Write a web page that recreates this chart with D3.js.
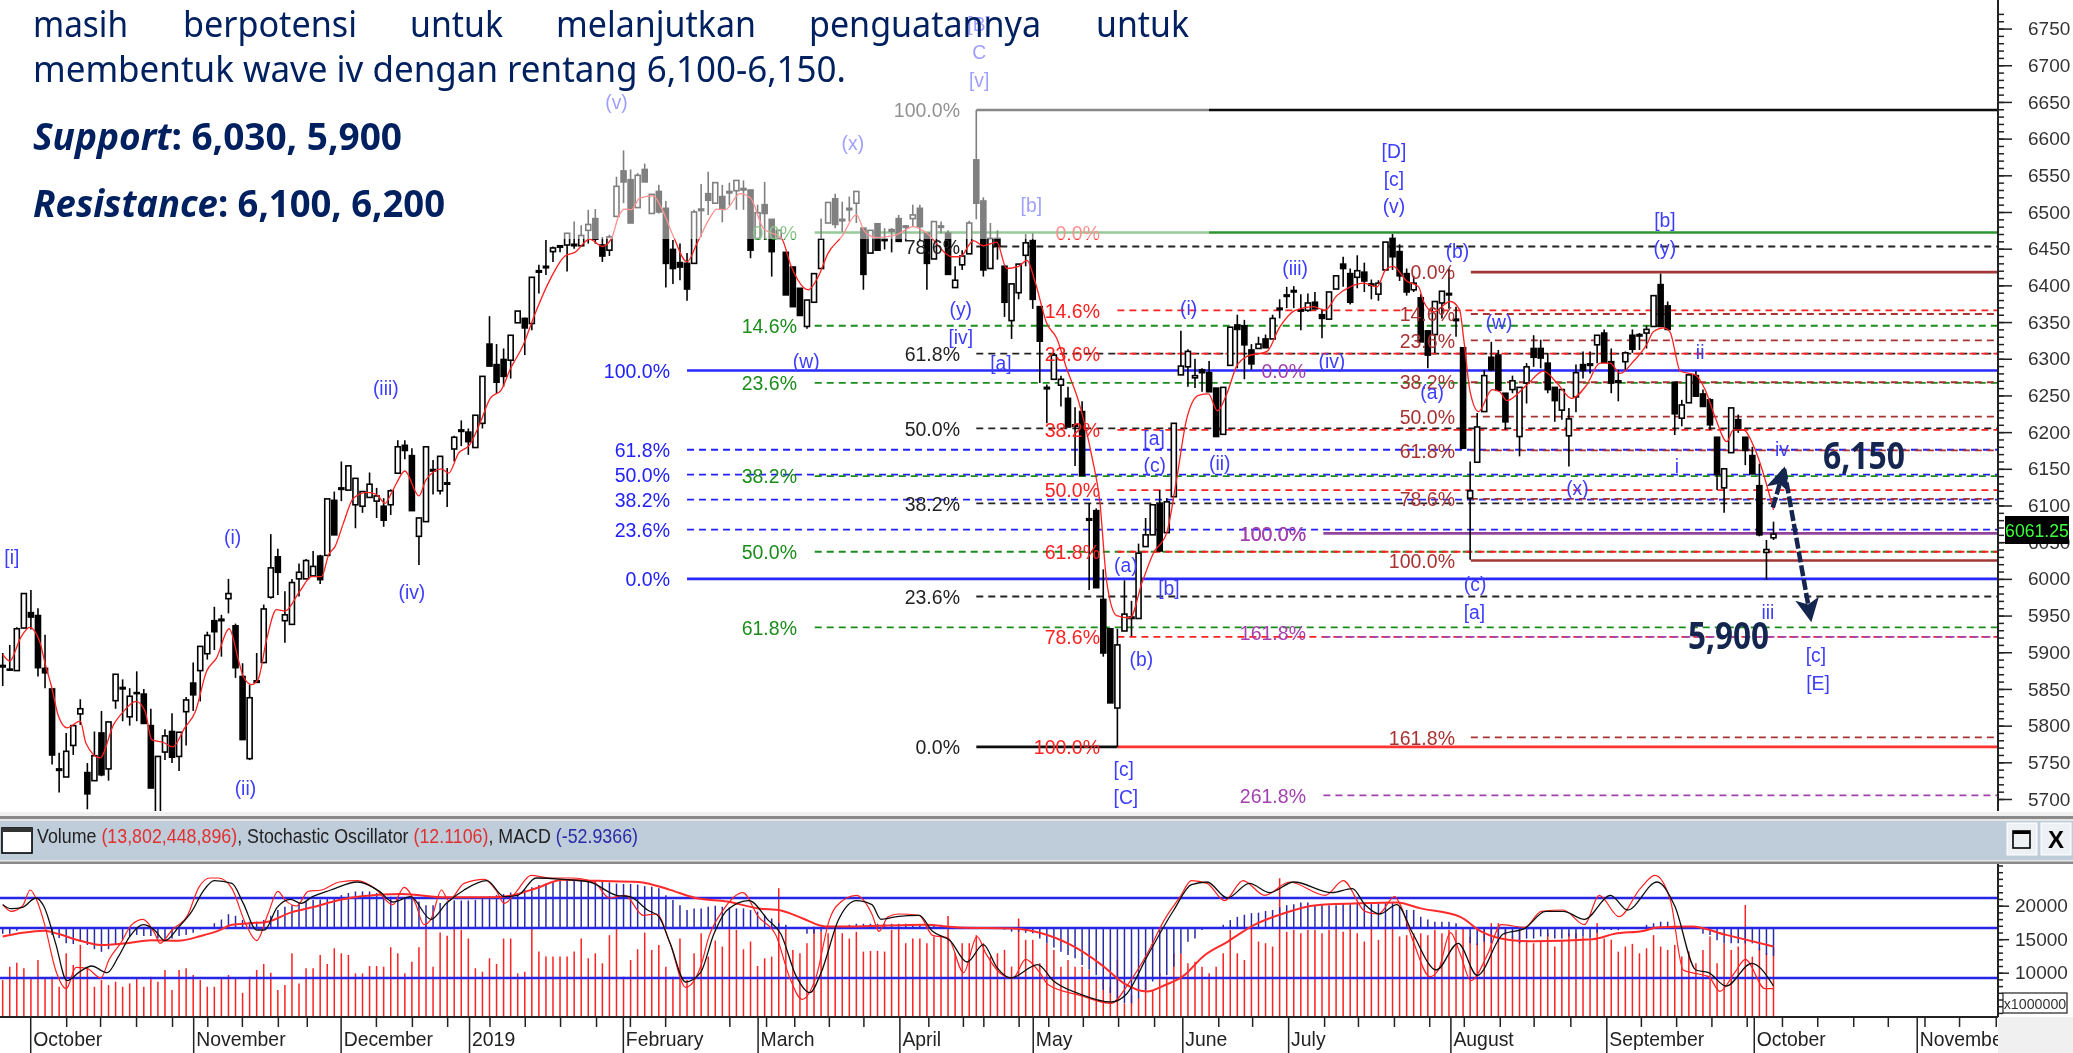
<!DOCTYPE html>
<html lang="en">
<head>
<meta charset="UTF-8">
<title>JCI wave chart</title>
<script src="https://d3js.org/d3.v7.min.js"></script>
<style>
    html,body{margin:0;padding:0;background:#fff;overflow:hidden;}
    text{font-family:"Liberation Sans",Arial,sans-serif;}
    .note{font-family:"Noto Sans","Open Sans",sans-serif;fill:#002060;}
    .axis path{display:none;}
    .axis line{stroke:#222;stroke-width:1.5px;}
    .axis text{font-family:"Liberation Sans",Arial,sans-serif;font-size:19px;fill:#333;}
</style>
</head>
<body>
<div class="canvas"></div>
<script>
    const width = 2073;
    const height = 1053;

    // candles, one per trading day
    const opens = [
        5882,5877,5875,5933,5954,5950,5878,5850,5741,5730,
        5773,5816,5736,5725,5790,5741,5834,5852,5812,5845,
        5843,5800,5680,5764,5792,5758,5819,5858,5875,5898,
        5943,5945,5973,5936,5867,5755,5861,5886,5975,6030,
        5943,5938,6000,6000,6004,6031,6032,6107,6124,6121,
        6101,6099,6111,6106,6099,6101,6144,6182,6168,6058,
        6078,6149,6120,6131,6177,6203,6200,6179,6212,6320,
        6292,6299,6298,6349,6355,6348,6420,6426,6446,6454,
        6455,6456,6454,6475,6491,6455,6448,6494,6556,6544,
        6506,6558,6498,6528,6505,6449,6431,6430,6430,6504,
        6525,6512,6521,6528,6529,6532,6530,6464,6510,6490,
        6464,6445,6425,6396,6344,6377,6423,6485,6518,6490,
        6505,6512,6478,6444,6484,6463,6476,6491,6481,6491,
        6505,6471,6436,6481,6471,6397,6428,6443,6571,6515,
        6423,6464,6426,6352,6390,6441,6461,6371,6261,6272,
        6264,6246,6210,6228,6082,6093,5972,5932,5824,5929,
        5948,5946,6044,6060,6103,6063,6112,6278,6289,6274,
        6285,6281,6260,6197,6291,6346,6345,6312,6314,6327,
        6327,6369,6387,6393,6367,6366,6377,6360,6354,6395,
        6429,6416,6411,6418,6402,6388,6421,6464,6446,6416,
        6394,6383,6338,6333,6376,6389,6354,6315,6110,6159,
        6228,6302,6305,6253,6258,6194,6267,6314,6314,6294,
        6261,6230,6195,6248,6292,6293,6319,6335,6296,6270,
        6296,6332,6333,6335,6344,6401,6372,6268,6219,6240,
        6277,6252,6244,6193,6124,6172,6217,6193,6168,6127,
        6036,6056];
    const highs = [
        5899,5910,5934,5980,5985,5960,5924,5850,5763,5790,
        5800,5836,5749,5792,5820,5805,5870,5863,5851,5874,
        5850,5823,5758,5795,5817,5791,5839,5886,5908,5928,
        5962,5951,6000,5939,5885,5856,5899,5965,6061,6041,
        5983,6000,6021,6027,6038,6033,6109,6119,6160,6154,
        6137,6119,6145,6124,6110,6122,6189,6189,6178,6083,
        6180,6162,6167,6151,6195,6216,6205,6223,6276,6358,
        6320,6314,6332,6365,6356,6411,6428,6462,6453,6455,
        6471,6487,6482,6503,6504,6466,6469,6548,6584,6558,
        6553,6566,6524,6537,6515,6462,6457,6444,6503,6538,
        6555,6540,6537,6540,6543,6543,6530,6510,6541,6490,
        6475,6445,6425,6396,6380,6416,6491,6513,6525,6514,
        6521,6528,6478,6475,6484,6478,6478,6496,6482,6510,
        6510,6471,6487,6487,6475,6426,6448,6488,6639,6520,
        6485,6475,6428,6402,6429,6470,6471,6371,6265,6308,
        6277,6262,6234,6242,6103,6096,6013,5932,5932,5998,
        5970,6048,6083,6101,6121,6110,6212,6338,6313,6300,
        6287,6297,6260,6261,6343,6360,6353,6320,6330,6333,
        6360,6381,6398,6399,6388,6389,6391,6368,6391,6413,
        6439,6423,6441,6431,6408,6407,6459,6470,6456,6423,
        6413,6388,6338,6378,6392,6423,6371,6315,6160,6226,
        6285,6323,6312,6253,6277,6261,6294,6332,6326,6308,
        6261,6258,6233,6292,6310,6310,6332,6340,6314,6285,
        6310,6340,6335,6345,6386,6416,6378,6268,6244,6278,
        6283,6258,6246,6193,6150,6233,6224,6193,6180,6157,
        6053,6078];
    const lows = [
        5854,5875,5875,5933,5931,5867,5851,5747,5709,5730,
        5760,5801,5686,5725,5731,5725,5823,5806,5800,5806,
        5803,5715,5670,5753,5749,5738,5773,5820,5833,5890,
        5903,5894,5953,5865,5781,5753,5858,5885,5973,5978,
        5913,5938,5976,6000,6004,5993,6032,6060,6106,6121,
        6069,6090,6111,6083,6071,6087,6144,6163,6093,6019,
        6078,6115,6115,6098,6160,6181,6169,6179,6205,6290,
        6253,6262,6273,6349,6305,6339,6389,6414,6432,6445,
        6419,6450,6453,6457,6457,6432,6440,6494,6512,6485,
        6506,6541,6498,6498,6397,6402,6407,6379,6430,6466,
        6496,6512,6486,6509,6503,6503,6437,6464,6462,6412,
        6464,6387,6371,6359,6341,6377,6423,6485,6478,6473,
        6487,6485,6394,6444,6448,6449,6445,6460,6460,6480,
        6460,6394,6436,6471,6415,6397,6421,6443,6490,6412,
        6423,6435,6357,6327,6381,6426,6368,6267,6212,6272,
        6235,6207,6154,6141,5985,5988,5894,5831,5771,5929,
        5922,5946,6044,6060,6038,6063,6112,6278,6262,6260,
        6255,6255,6194,6197,6291,6287,6272,6285,6314,6315,
        6327,6355,6369,6369,6339,6364,6368,6328,6354,6395,
        6398,6374,6396,6391,6381,6379,6421,6421,6406,6386,
        6391,6323,6287,6308,6355,6368,6330,6178,6026,6159,
        6228,6283,6257,6203,6253,6167,6239,6289,6287,6253,
        6214,6217,6153,6227,6273,6280,6294,6295,6253,6242,
        6285,6308,6312,6314,6344,6344,6339,6196,6208,6240,
        6249,6235,6203,6121,6090,6172,6199,6155,6143,6058,
        5999,6053];
    const closes = [
        5880,5876,5932,5980,5948,5879,5872,5760,5739,5765,
        5800,5823,5707,5759,5733,5805,5870,5850,5840,5844,
        5803,5715,5758,5786,5757,5791,5835,5842,5908,5923,
        5928,5943,5980,5879,5781,5838,5859,5959,6015,6009,
        5951,5995,6009,6025,6017,5999,6109,6060,6122,6154,
        6137,6119,6129,6113,6080,6120,6180,6175,6093,6083,
        6180,6147,6167,6129,6193,6201,6187,6223,6276,6290,
        6268,6276,6332,6365,6342,6411,6418,6424,6451,6452,
        6471,6454,6468,6483,6463,6440,6466,6535,6541,6485,
        6550,6541,6524,6500,6430,6423,6425,6395,6500,6502,
        6516,6540,6505,6526,6543,6530,6448,6499,6498,6446,
        6475,6387,6371,6359,6380,6416,6463,6513,6483,6488,
        6503,6528,6415,6475,6448,6461,6474,6460,6479,6496,
        6480,6430,6487,6479,6415,6407,6440,6485,6512,6421,
        6464,6453,6377,6402,6429,6458,6381,6324,6259,6305,
        6272,6207,6208,6141,6080,5988,5899,5831,5910,5952,
        5946,6035,6060,6101,6038,6105,6212,6290,6310,6277,
        6281,6255,6194,6261,6343,6340,6319,6293,6320,6315,
        6355,6367,6385,6391,6365,6376,6368,6355,6391,6413,
        6423,6377,6420,6406,6400,6403,6459,6439,6413,6391,
        6403,6323,6305,6378,6392,6387,6352,6178,6120,6207,
        6277,6285,6257,6214,6270,6261,6289,6302,6301,6258,
        6243,6258,6218,6281,6284,6291,6332,6295,6267,6268,
        6308,6313,6331,6340,6386,6344,6340,6225,6237,6278,
        6249,6235,6210,6142,6150,6233,6203,6175,6143,6060,
        6040,6061];

    // red moving average, read at its turning points
    const maDays = [0,1,2.5,3.8,5.3,6,6.9,7.9,9.1,11,11.8,13.8,15.7,17.1,18.9,20.2,21.1,22.8,24.1,25.8,27.3,28.9,30.3,32.1,33.4,34.1,35.3,36.2,37.4,38.8,40,42.1,43.8,45.2,46.2,47.1,48.3,49.7,51.6,53,54.2,55,55.8,57,59,60,62.2,63.2,64.6,66.2,
        67.65,69.1,70.7,71.9,73.8,75.4,77.8,79.7,81.1,83.2,85,86.3,87.3,88.1,89.1,90.3,92.2,93.4,95.1,97,98.4,100.3,101.2,102.4,104.5,106,107.8,110.4,111.8,114.2,115.6,117,118.9,121,122.2,123.9,126.7,129.1,130.7,134.7,
        135.7,137.6,139,140.9,142.3,144,145.2,146.3,148,149.4,150.8,152.5,154.4,155.5,156.5,157.9,159.8,161.5,163.1,165,166.4,167.8,169.5,170.9,172.2,173.5,174.9,176.3,179.2,181,183.2,185.8,187.4,189.1,191,192.9,194.8,196,197.1,199,200.7,
        201.4,202.8,205.2,206.5,207.1,208,209.2,211.1,212.2,213.2,216,218.4,220.3,222.4,224.5,226.4,227.8,229.3,231.1,233,234,235.4,236.3,237.8,239.9,241.3,242.7,244.4,245.3,246.7,248.4,251];
    const maValues = [5897,5888,5919,5934,5913,5885,5854,5813,5797,5806,5776,5756,5801,5819,5833,5819,5781,5777,5771,5797,5819,5874,5892,5932,5890,5867,5856,5863,5917,5958,5956,5983,6003,6003,6033,6044,6076,6110,6118,6115,6103,6115,6130,6147,6113,6135,6150,6144,6171,6183,
        6212,6246,6258,6285,6319,6360,6412,6440,6445,6463,6453,6464,6494,6504,6503,6519,6522,6505,6466,6432,6457,6493,6504,6503,6525,6519,6478,6464,6425,6394,6412,6444,6466,6496,6473,6465,6469,6480,6473,6439,
        6439,6461,6454,6459,6423,6426,6434,6406,6348,6328,6287,6242,6166,6106,5995,5950,5947,5995,6035,6063,6136,6217,6250,6252,6229,6252,6290,6303,6310,6343,6366,6371,6366,6386,6398,6403,6398,6421,6426,6406,6398,
        6378,6364,6378,6367,6326,6255,6228,6258,6255,6243,6264,6283,6267,6246,6264,6294,6294,6280,6296,6319,6337,6342,6337,6283,6278,6258,6221,6187,6203,6203,6176,6094];

    // fibonacci retracements: first bar, label edge, levels
    const blackFibStart = 138, blackFibLevels = ['100.0%','78.6%','61.8%','50.0%','38.2%','23.6%','0.0%'];
    const blackFibPrices = [6639,6453,6307,6205,6103,5976,5771];
    const blueFibStart = 97, blueFibLevels = ['100.0%','61.8%','50.0%','38.2%','23.6%','0.0%'];
    const blueFibPrices = [6284,6176,6142,6108,6067,6000];
    const greenFibStart = 115.1, greenFibLevels = ['0.0%','14.6%','23.6%','38.2%','50.0%','61.8%'];
    const greenFibPrices = [6472,6345,6267,6140,6037,5934];
    const redFibStart = 158, redFibLevels = ['0.0%','14.6%','23.6%','38.2%','50.0%','61.8%','78.6%','100.0%'];
    const redFibPrices = [6472,6366,6307,6203,6121,6037,5921,5771];
    const brownFibStart = 208.1, brownFibLevels = ['0.0%','14.6%','23.6%','38.2%','50.0%','61.8%','78.6%','100.0%','161.8%'];
    const brownFibPrices = [6418,6361,6325,6268,6221,6175,6109,6025,5784];
    const purpleFibStart = 187.2, purpleFibLevels = ['0.0%','100.0%','161.8%','261.8%'];
    const purpleFibPrices = [6284,6062,5921,5705];

    // elliott wave counts
    const waveLabels = ['[i]','(i)','(ii)','(iii)','(iv)','(v)','[B]','C','[v]','(x)','[b]','(y)','[iv]','(w)','[a]','(i)','(iii)','(iv)','[D]','[c]','(v)','(a)','(b)','(c)','[a]','[b]','(ii)','[c]','[C]','(b)','(a)','(w)','(x)','(c)','[a]','[b]','(y)','i','ii','iii','iv','[c]','[E]'];
    const waveDays = [1.3,32.6,34.4,54.3,58,87,138.4,138.4,138.4,120.5,145.8,135.8,135.8,113.9,141.5,168.1,183.2,188.4,197.2,197.2,197.2,159.2,161.4,163.3,163.2,165.3,172.5,158.9,159.2,206.2,202.6,212.1,223.2,208.7,208.6,235.6,235.6,237.3,240.6,250.2,252.2,257,257.3];
    const wavePrices = [6030,6057,5715,6260,5982,6650,6757,6719,6680,6595,6510,6368,6330,6298,6294,6369,6424,6297,6584,6546,6508,6019,5891,6155,6192,5988,6158,5741,5703,6447,6255,6350,6124,5993,5955,6489,6451,6154,6309,5955,6178,5896,5858];

    // forecast arrows drawn on the chart
    const arrowDays = [250.9,252.5,256.3];
    const arrowPrices = [6097,6150,5944];

    // lower panel: volume (x1000000), macd histogram and signal, stochastic
    const volumes = [
        8900,10900,11500,10650,9150,11900,9150,9400,7900,12900,
        11150,14150,10650,7900,8900,8150,8650,7900,8400,9150,
        7900,9400,8650,10400,7400,10400,10650,9650,8900,7900,
        7900,9150,9650,9150,7000,9400,10400,11300,10000,7400,
        8150,12900,8400,10650,10650,12650,11300,13650,12900,12650,
        9900,9900,11000,11000,10900,13800,12900,9900,11650,13800,
        17100,10900,16000,15500,16600,16400,15100,10650,10150,12150,
        11300,15100,15100,9900,10150,16600,13150,12400,12400,12400,
        12400,13150,15100,12150,12900,11400,15600,16600,9400,11900,
        13500,16000,13400,14150,10900,9400,15100,8900,12900,
        15900,12400,14800,13900,16900,16400,13500,14650,11000,12150,
        12400,22600,16900,13400,12900,14400,16900,16100,15900,16900,
        15900,15100,16100,13150,13250,13250,13150,16400,16600,14400,
        15100,15100,14400,15400,15600,18450,12900,14400,14400,15600,
        14400,12400,12900,13400,10900,18100,14900,14900,11400,14400,
        13400,10900,11900,10900,10900,10400,9400,8900,7900,11900,
        5400,6700,6200,8900,7400,9900,9400,12900,12900,11400,
        11650,10900,9900,10900,12900,16400,12900,11900,16900,14650,
        14400,13900,24100,16100,16400,15900,16400,16400,15900,16400,
        16900,16100,16900,15900,14650,17100,14900,16900,16900,
        15400,15600,15900,15900,15600,16400,15900,16400,16400,16600,
        15400,14400,16600,17400,17400,16600,15400,16400,14900,14400,
        14650,15900,13900,14900,15900,15900,15400,14900,17400,15100,
        14900,13150,13900,14300,12900,13650,15600,13900,13400,14150,
        12400,13150,11400,13400,15400,11400,14400,13400,13900,20100,
        12400,13650,12900,13802];
    const macdBars = [
        -11,-11,-5,-1,-2,-2,-2,-13,-19,-29,
        -30,-26,-32,-40,-45,-40,-32,-23,-16,-13,
        -15,-15,-20,-24,-20,-15,-13,-9,-3,0,
        9,16,26,23,15,12,12,15,23,34,
        40,43,47,50,53,54,56,58,62,66,
        69,69,69,66,62,59,59,58,56,50,
        43,43,47,50,52,52,52,53,56,60,
        62,64,67,66,72,77,81,84,88,89,
        91,91,91,89,89,88,86,84,83,83,
        82,79,78,75,62,53,43,34,37,
        37,40,42,40,39,37,37,34,31,25,
        18,9,6,1,-1,-11,-11,-7,-1,3,
        4,6,8,8,8,8,8,8,8,8,
        6,6,6,6,6,3,-1,0,0,0,
        0,0,0,-3,-7,-7,-9,-10,-20,-29,
        -37,-45,-51,-57,-70,-79,-89,-117,-123,-136,
        -142,-142,-133,-117,-101,-92,-89,-73,-48,-26,
        -20,-4,0,0,6,15,21,25,28,29,
        32,34,39,43,45,48,48,43,43,43,
        43,47,47,48,48,48,47,47,47,
        40,34,34,21,16,12,12,12,9,0,
        -29,-32,-26,-29,-26,-13,-20,-29,-20,-20,
        -16,-16,-20,-20,-16,-20,-16,-20,-9,-4,
        -4,-4,0,0,0,6,9,12,12,0,
        0,0,0,-11,-13,-23,-29,-29,-29,-29,
        -29,-42,-51,-53];
    const signalDays = [0,2.8,5.9,7.8,11,13.9,17.3,21.1,24.9,28.1,30.6,32.5,35,37.6,40.8,43.9,47.7,50.9,56.6,62.9,69.2,72.4,75.6,79.4,84.4,90.1,94.6,98.4,
        102.7,107.1,110.3,113.4,116.6,121,130.5,135.6,143.2,147,151.4,155.8,159,162.2,164.7,167.2,170.4,173.6,177.4,181.2,186.2,193.8,197.6,
        201,206.6,209.6,213.9,216.9,225.4,228.5,232.7,234.5,239.4,244.3,251];
    const signalValues = [-16,-9,-5,-11,-24,-32,-29,-23,-24,-15,-5,6,9,12,29,39,53,60,64,58,58,62,75,91,89,87,72,56,
        50,37,33,18,3,3,6,1,-1,-9,-32,-70,-105,-120,-108,-92,-51,-26,6,26,43,47,48,
        37,21,-7,-23,-25,-21,-11,-5,1,3,-13,-35];
    const stochKDays = [0,1.2,2.8,3.9,5,5.9,7.5,9,10.4,12,13.9,15.1,16.7,18.3,19.9,21.5,22.3,24,26.2,27.8,29.4,30.6,32.5,34.4,36,37.6,39,40.1,41.7,43.3,45.2,47.7,50.3,52.8,55.3,56.9,58.5,59.7,60.7,62.2,63.2,65.4,68.3,69.9,71.1,72.7,74.9,77.5,80.6,83.8,86,88.2,90.8,92.7,94.6,96.8,
        98.9,100.1,102,104.9,107.1,109.6,111.5,113.3,115.3,117.2,118.2,121,123.2,124.2,125.5,127,129.9,131.8,134,136.2,138.1,139.4,141.3,143.2,145,147,148.2,152.7,157.1,159.6,162.2,164.7,166.9,168.5,170.7,173.2,175.8,178.9,182.4,187.5,190,193.1,195,197.3,
        198,199.9,202.3,203.5,205.2,206.6,208.1,210.5,212.4,215.7,218.1,221.2,224.2,226.3,229.1,232.1,234.2,236.4,238.2,239.4,241.8,243.4,245.5,247,249.8,251];
    const stochKValues = [75,70,74,86,76,61,26,12,28,27,20,34,46,60,64,54,46,56,67,88,95,95,87,61,48,68,85,78,74,85,86,92,93,87,75,88,76,60,64,86,78,91,94,86,76,84,97,95,95,92,80,82,67,68,46,13,
        28,51,70,84,66,52,21,4,21,64,74,82,68,55,66,68,67,52,50,24,51,38,24,20,34,24,15,7,1,16,38,64,81,93,91,78,93,82,92,82,93,70,68,81,
        76,48,21,26,54,38,18,38,60,58,70,71,60,82,66,87,97,78,26,24,21,10,24,34,12,12];
    const stochDDays = [0,1.2,2.8,4.7,5.9,7.5,9.1,11,12.6,14.8,16.4,18,19.9,21.5,23,24.9,26.8,28.4,30,32.5,34.1,36,37.1,38.9,40.8,42.3,43.9,46.5,50.3,53.4,55.3,57.8,60.7,62.9,65.4,68.6,71.1,73,75.6,79.4,83.2,87,88.9,91.4,93,94.6,96.8,
        98.9,100.8,102.7,105.8,108.4,110.3,112.5,114.4,116,118.5,121,123.2,124.5,126.7,129.9,131.8,134.3,136.7,139,140.9,142.9,146.7,148.9,152.7,157.1,159.3,162.2,166,168.5,170.7,173.6,176.7,179.6,183,188.4,191.3,193.1,195.2,197.6,
        199.9,203.2,206.3,209,212.7,215.7,218.7,221.2,224.2,227.9,230.3,234.5,237,240,241.8,244.3,247.9,251];
    const stochDValues = [75,72,73,80,73,46,18,25,29,24,36,51,60,56,48,58,70,85,93,91,76,56,56,73,79,76,81,86,92,85,77,81,64,76,86,93,81,82,95,94,92,82,81,71,66,46,17,
        24,53,71,78,64,53,21,9,24,64,78,75,64,66,67,55,48,32,45,28,20,30,18,8,2,8,36,71,90,92,80,91,84,92,84,87,75,68,75,
        53,26,46,22,53,57,70,70,64,82,71,92,74,26,24,14,31,14];

    // axes
    const priceTicks = [5700,5750,5800,5850,5900,5950,6000,6050,6100,6150,6200,6250,6300,6350,6400,6450,6500,6550,6600,6650,6700,6750];
    const volumeTicks = [10000,15000,20000];
    const monthLabels = ['October','November','December','2019','February','March','April','May','June','July','August','September','October','November'];
    const monthDays = [3.9,27,47.9,66.1,87.9,107,127.1,146,167.2,182.2,205.2,227.3,248.2,271.3];
    const weekDays = [9,13.8,18.9,24,29,33.9,39,43.1,52.9,58,63,69,74,79,84.1,88.9,93.9,103,108.2,112.2,117.1,122,131.2,136.1,139,144,148.2,153.1,158.1,163.2,172.3,177.1,187.3,192.1,197.2,202.2,207.1,212.2,217,222.2,232.2,237.2,242.2,247.2,252.2,257.2,262.3,267.2,272.4,277.3,282.5];

    const axisX = 1998;
    const priceBottom = 811;
    const lowerTop = 864;
    const lowerBottom = 1017;

    const x = d3.scaleLinear().domain([0,251]).range([2.7,2.7 + 7.055 * 251]);
    const y = d3.scaleLinear().domain([5700,6500]).range([799,212]);
    const volY = d3.scaleLinear().domain([10000,20000]).range([972.7,905.7]);
    const macdY = d3.scaleLinear().domain([0,100]).range([928,875]);
    const stochY = d3.scaleLinear().domain([20,80]).range([978,898]);

    const svg = d3.select('.canvas').append('svg')
        .attr('width',width)
        .attr('height',height)
        .style('display','block');

    const defs = svg.append('defs');
    defs.append('clipPath').attr('id','priceClip').append('rect')
        .attr('x',0).attr('y',0).attr('width',axisX).attr('height',priceBottom);
    defs.append('clipPath').attr('id','timeClip').append('rect')
        .attr('x',0).attr('y',lowerBottom).attr('width',axisX).attr('height',height - lowerBottom);
    defs.append('filter').attr('id','soft')
        .attr('x','-1%').attr('y','-1%').attr('width','102%').attr('height','102%')
        .append('feGaussianBlur').attr('stdDeviation',0.45);
    defs.append('marker').attr('id','arrowHead')
        .attr('viewBox','0 0 10 10').attr('refX',9).attr('refY',5)
        .attr('markerUnits','userSpaceOnUse')
        .attr('markerWidth',24).attr('markerHeight',24)
        .attr('orient','auto')
        .append('path').attr('d','M0,0L10,5L0,10L2.5,5Z').attr('fill','#14264f');

    const chart = svg.append('g').attr('filter','url(#soft)');
    const price = chart.append('g').attr('clip-path','url(#priceClip)');

    // squeezed text, the platform font is narrower than Liberation Sans
    const narrowText = (parent,str,px,py,anchor,size,color,squeeze = 0.93) =>
        parent.append('text')
            .attr('transform',`translate(${px},${py}) scale(${squeeze},1)`)
            .attr('text-anchor',anchor)
            .attr('dominant-baseline','central')
            .attr('font-size',size)
            .attr('fill',color)
            .text(str);

    const fibs = [
        {start:blueFibStart,levels:blueFibLevels,prices:blueFibPrices,color:'#2020ff',labelX:670,solid:['100.0%','0.0%'],solidColor:'#2a2aff'},
        {start:blackFibStart,levels:blackFibLevels,prices:blackFibPrices,color:'#222',labelX:960,solid:['100.0%'],solidColor:'#111',endAt:{'0.0%':158}},
        {start:greenFibStart,levels:greenFibLevels,prices:greenFibPrices,color:'#1a8c1a',labelX:797,solid:['0.0%'],solidColor:'#2f9432'},
        {start:redFibStart,levels:redFibLevels,prices:redFibPrices,color:'#ff2020',labelX:1100,solid:['0.0%','100.0%'],solidColor:'#ff3030',hide:['0.0%']},
        {start:purpleFibStart,levels:purpleFibLevels,prices:purpleFibPrices,color:'#a23fae',labelX:1306,solid:['100.0%'],solidColor:'#93449c',hide:['0.0%']},
        {start:brownFibStart,levels:brownFibLevels,prices:brownFibPrices,color:'#a83232',labelX:1455,solid:['0.0%','100.0%'],solidColor:'#a23636'}
    ];

    fibs.forEach(fib => {
        fib.levels.forEach((level,idx) => {
            if(fib.hide && fib.hide.includes(level)) return;
            const solid = fib.solid.includes(level);
            const endDay = fib.endAt && fib.endAt[level];
            price.append('line')
                .attr('x1',x(fib.start))
                .attr('x2',endDay ? x(endDay) : axisX)
                .attr('y1',y(fib.prices[idx]))
                .attr('y2',y(fib.prices[idx]))
                .attr('stroke',solid || endDay ? fib.solidColor : fib.color)
                .attr('stroke-width',solid || endDay ? 2.6 : 1.8)
                .attr('stroke-dasharray',solid || endDay ? null : '7 5');
        });
    });

    // wicks then bodies
    const candle = price.selectAll('g.candle')
        .data(d3.range(opens.length))
        .enter().append('g').attr('class','candle');
    candle.append('line')
        .attr('x1',d => x(d)).attr('x2',d => x(d))
        .attr('y1',d => y(highs[d])).attr('y2',d => y(lows[d]))
        .attr('stroke','#000').attr('stroke-width',1.6);
    candle.append('rect')
        .attr('x',d => x(d) - 2.5)
        .attr('width',5)
        .attr('y',d => y(Math.max(opens[d],closes[d])))
        .attr('height',d => Math.max(1,Math.abs(y(opens[d]) - y(closes[d]))))
        .attr('fill',d => closes[d] >= opens[d] ? '#fff' : '#000')
        .attr('stroke','#000')
        .attr('stroke-width',1.6);

    const maLine = d3.line()
        .x((d,i) => x(maDays[i]))
        .y(d => y(d))
        .curve(d3.curveMonotoneX);
    price.append('path')
        .attr('d',maLine(maValues))
        .attr('fill','none')
        .attr('stroke','#ff2020')
        .attr('stroke-width',1.3);

    // fibonacci labels sit over the candles
    fibs.forEach(fib => {
        fib.levels.forEach((level,idx) => {
            const shift = fib.labelX === 1306 && level === '161.8%' ? -4 : 0;
            narrowText(price,level,fib.labelX,y(fib.prices[idx]) + shift,'end',21,fib.color);
        });
    });
    narrowText(price,'100.0%',1306,y(6062),'end',21,'#a23fae');

    price.selectAll('text.wave')
        .data(waveLabels)
        .enter().append('text')
        .attr('class','wave')
        .attr('transform',(d,i) => `translate(${x(waveDays[i])},${y(wavePrices[i])}) scale(0.92,1)`)
        .attr('text-anchor','middle')
        .attr('dominant-baseline','central')
        .attr('font-size',21)
        .attr('fill','#3d3dff')
        .text(d => d);

    // washed-out corner over the older part of the price panel
    chart.append('rect')
        .attr('x',0).attr('y',0)
        .attr('width',1209).attr('height',239)
        .attr('fill','#fff').attr('opacity',0.5);

    // price axis
    const minorPriceTicks = d3.range(5700,6780,10);
    chart.append('g').attr('class','axis')
        .attr('transform',`translate(${axisX},0)`)
        .call(d3.axisRight(y).tickValues(minorPriceTicks).tickSize(6).tickFormat(''));
    const priceAxis = chart.append('g').attr('class','axis')
        .attr('transform',`translate(${axisX},0)`)
        .call(d3.axisRight(y).tickValues(priceTicks).tickSize(14).tickPadding(16).tickFormat(d3.format('d')));
    priceAxis.selectAll('text').attr('font-size',19).attr('text-anchor','start');
    chart.append('line')
        .attr('x1',axisX).attr('x2',axisX).attr('y1',0).attr('y2',priceBottom)
        .attr('stroke','#222').attr('stroke-width',2);

    chart.append('rect').attr('x',2005).attr('y',516).attr('width',64).attr('height',28).attr('fill','#000');
    narrowText(chart,'6061.25',2037,530,'middle',19,'#3cff3c',0.93);

    // window bar between the panels
    const chrome = svg.append('g');
    chrome.append('rect').attr('x',0).attr('y',812).attr('width',width).attr('height',4).attr('fill','#f0f0f0');
    chrome.append('rect').attr('x',0).attr('y',816).attr('width',width).attr('height',3).attr('fill','#8a8a8a');
    chrome.append('rect').attr('x',0).attr('y',819).attr('width',width).attr('height',2).attr('fill','#e6e6e6');
    chrome.append('rect').attr('x',0).attr('y',821).attr('width',width).attr('height',39).attr('fill','#bfccda');
    chrome.append('rect').attr('x',0).attr('y',860).attr('width',width).attr('height',1.5).attr('fill','#e6e6e6');
    chrome.append('rect').attr('x',0).attr('y',861.5).attr('width',width).attr('height',2.5).attr('fill','#8a8a8a');
    chrome.append('rect').attr('x',2).attr('y',828).attr('width',30).attr('height',25).attr('fill','#fff').attr('stroke','#000').attr('stroke-width',1.6);
    chrome.append('rect').attr('x',2).attr('y',828).attr('width',30).attr('height',4).attr('fill','#333');

    const legend = chrome.append('text')
        .attr('x',37).attr('y',843)
        .attr('font-size',21)
        .attr('textLength',601)
        .attr('lengthAdjust','spacingAndGlyphs')
        .attr('fill','#222');
    legend.append('tspan').text('Volume ');
    legend.append('tspan').attr('fill','#e03030').text('(13,802,448,896)');
    legend.append('tspan').text(', Stochastic Oscillator ');
    legend.append('tspan').attr('fill','#e03030').text('(12.1106)');
    legend.append('tspan').text(', MACD ');
    legend.append('tspan').attr('fill','#2a2aa8').text('(-52.9366)');

    [2007,2041].forEach(bx => {
        chrome.append('rect').attr('x',bx).attr('y',823).attr('width',30).attr('height',32)
            .attr('fill','#eef1f4').attr('stroke','#fff').attr('stroke-width',1);
    });
    chrome.append('rect').attr('x',2013).attr('y',831).attr('width',17).attr('height',17)
        .attr('fill','none').attr('stroke','#000').attr('stroke-width',1.6);
    chrome.append('rect').attr('x',2013).attr('y',831).attr('width',17).attr('height',3).attr('fill','#000');
    chrome.append('text').attr('x',2056).attr('y',848).attr('text-anchor','middle')
        .attr('font-size',24).attr('font-weight','bold').attr('fill','#000').text('X');

    // lower panel
    const lower = chart.append('g');
    lower.selectAll('line.vol')
        .data(volumes)
        .enter().append('line')
        .attr('class','vol')
        .attr('x1',(d,i) => x(i)).attr('x2',(d,i) => x(i))
        .attr('y1',lowerBottom).attr('y2',d => volY(d))
        .attr('stroke','#ff2020').attr('stroke-width',1.5);
    lower.selectAll('line.macd')
        .data(macdBars)
        .enter().append('line')
        .attr('class','macd')
        .attr('x1',(d,i) => x(i)).attr('x2',(d,i) => x(i))
        .attr('y1',macdY(0)).attr('y2',d => macdY(d))
        .attr('stroke','#2a2aa8').attr('stroke-width',1.5);
    [stochY(80),macdY(0),stochY(20)].forEach(ly => {
        lower.append('line')
            .attr('x1',0).attr('x2',axisX).attr('y1',ly).attr('y2',ly)
            .attr('stroke','#2626e6').attr('stroke-width',2.4);
    });

    const dayLine = days => d3.line()
        .x((d,i) => x(days[i]))
        .curve(d3.curveMonotoneX);
    lower.append('path')
        .attr('d',dayLine(signalDays).y(d => macdY(d))(signalValues))
        .attr('fill','none').attr('stroke','#ff2a2a').attr('stroke-width',2);
    lower.append('path')
        .attr('d',dayLine(stochKDays).y(d => stochY(d))(stochKValues))
        .attr('fill','none').attr('stroke','#ff2020').attr('stroke-width',1.2);
    lower.append('path')
        .attr('d',dayLine(stochDDays).y(d => stochY(d))(stochDValues))
        .attr('fill','none').attr('stroke','#111').attr('stroke-width',1.3);

    // volume axis
    const minorVolTicks = d3.range(4000,27000,1000);
    chart.append('g').attr('class','axis')
        .attr('transform',`translate(${axisX},0)`)
        .call(d3.axisRight(volY).tickValues(minorVolTicks).tickSize(5).tickFormat(''));
    const volAxis = chart.append('g').attr('class','axis')
        .attr('transform',`translate(${axisX},0)`)
        .call(d3.axisRight(volY).tickValues(volumeTicks).tickSize(11).tickPadding(6).tickFormat(d3.format('d')));
    volAxis.selectAll('text').attr('font-size',19);
    chart.append('line')
        .attr('x1',axisX).attr('x2',axisX).attr('y1',lowerTop).attr('y2',lowerBottom)
        .attr('stroke','#222').attr('stroke-width',2);
    chart.append('rect').attr('x',2003).attr('y',993).attr('width',64).attr('height',20)
        .attr('fill','#fff').attr('stroke','#222').attr('stroke-width',1.2);
    narrowText(chart,'x1000000',2035,1003.5,'middle',15,'#333',0.95);

    // time axis
    chart.append('rect').attr('x',axisX).attr('y',lowerBottom).attr('width',width - axisX).attr('height',height - lowerBottom).attr('fill','#f0f0f0');
    const timeG = chart.append('g').attr('clip-path','url(#timeClip)');
    timeG.append('g').attr('class','axis')
        .attr('transform',`translate(0,${lowerBottom})`)
        .call(d3.axisBottom(x).tickValues(weekDays).tickSize(10).tickFormat(''));
    timeG.append('g').attr('class','axis')
        .attr('transform',`translate(0,${lowerBottom})`)
        .call(d3.axisBottom(x).tickValues(monthDays).tickSize(36).tickFormat(''));
    monthLabels.forEach((label,i) => {
        timeG.append('text')
            .attr('transform',`translate(${x(monthDays[i]) + 3},1046) scale(0.97,1)`)
            .attr('font-size',20)
            .attr('fill','#222')
            .text(label);
    });
    chart.append('line')
        .attr('x1',0).attr('x2',axisX).attr('y1',lowerBottom).attr('y2',lowerBottom)
        .attr('stroke','#222').attr('stroke-width',1.8);

    // forecast arrows
    const overlay = svg.append('g');
    const arrow = (from,to) => overlay.append('line')
        .attr('x1',x(arrowDays[from])).attr('y1',y(arrowPrices[from]))
        .attr('x2',x(arrowDays[to])).attr('y2',y(arrowPrices[to]))
        .attr('stroke','#14264f').attr('stroke-width',4.5)
        .attr('stroke-dasharray','11 3')
        .attr('marker-end','url(#arrowHead)');
    arrow(0,1);
    arrow(1,2);

    // commentary over the chart
    const note = (str,px,py,size,len,weight) => overlay.append('text')
        .attr('class','note')
        .attr('x',px).attr('y',py)
        .attr('font-size',size)
        .attr('font-weight',weight || 'normal')
        .attr('textLength',len)
        .attr('lengthAdjust','spacingAndGlyphs')
        .text(str);
    note('masih',33,37,36,95);
    note('berpotensi',183,37,36,174);
    note('untuk',410,37,36,93);
    note('melanjutkan',556,37,36,200);
    note('penguatannya',809,37,36,232);
    note('untuk',1096,37,36,93);
    note('membentuk wave iv dengan rentang 6,100-6,150.',33,82,36,813);

    const support = overlay.append('text').attr('class','note')
        .attr('x',33).attr('y',150).attr('font-size',37).attr('font-weight','bold')
        .attr('textLength',369).attr('lengthAdjust','spacingAndGlyphs');
    support.append('tspan').attr('font-style','italic').text('Support');
    support.append('tspan').text(': 6,030, 5,900');
    const resistance = overlay.append('text').attr('class','note')
        .attr('x',33).attr('y',217).attr('font-size',37).attr('font-weight','bold')
        .attr('textLength',412).attr('lengthAdjust','spacingAndGlyphs');
    resistance.append('tspan').attr('font-style','italic').text('Resistance');
    resistance.append('tspan').text(': 6,100, 6,200');

    note('6,150',1823,469,38,82,'bold').style('fill','#14264f');
    note('5,900',1688,649,38,81,'bold').style('fill','#14264f');
</script>
</body>
</html>
